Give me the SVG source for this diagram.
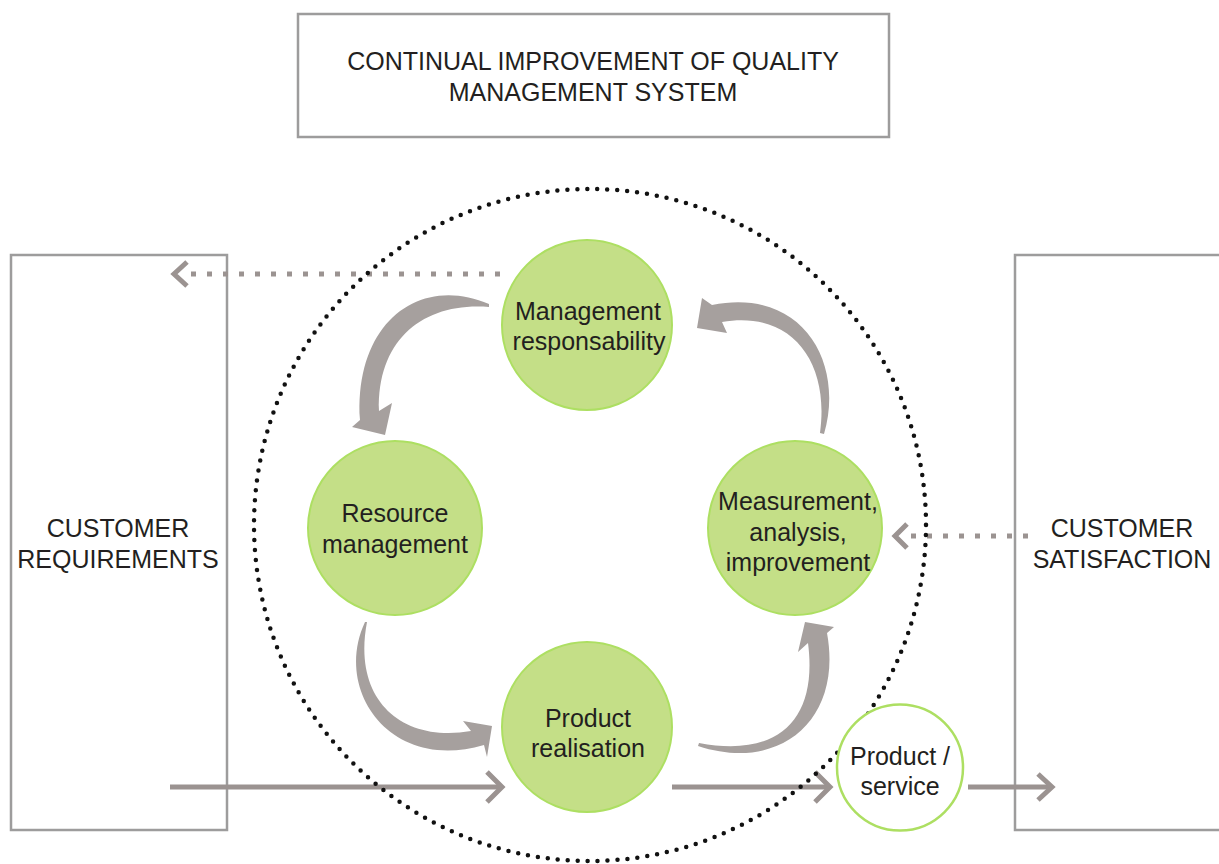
<svg xmlns="http://www.w3.org/2000/svg" width="1219" height="864" viewBox="0 0 1219 864">
<defs>
<style>
text{font-family:"Liberation Sans",Arial,sans-serif;font-size:25px;fill:#231f20;text-anchor:middle}
.box{fill:none;stroke:#9d9c9c;stroke-width:2.5}
.node{fill:#c4df87;stroke:#addf62;stroke-width:2}
.line{fill:none;stroke:#9b9391;stroke-width:5}
.chev{fill:none;stroke:#9b9391;stroke-width:5;stroke-linejoin:miter}
.dots{fill:none;stroke:#9b9391;stroke-width:5;stroke-dasharray:5 11}
.curve{fill:#a6a09e}
</style>
</defs>
<rect width="1219" height="864" fill="#ffffff"/>
<g id="title">
<rect class="box" x="298" y="14" width="591" height="123"/>
<text x="593" y="70">CONTINUAL IMPROVEMENT OF QUALITY</text>
<text x="593" y="101">MANAGEMENT SYSTEM</text>
</g>
<g id="customer-requirements">
<rect class="box" x="11" y="255" width="216" height="575"/>
<text x="118" y="537">CUSTOMER</text>
<text x="118" y="568">REQUIREMENTS</text>
</g>
<g id="customer-satisfaction">
<rect class="box" x="1015" y="255" width="230" height="575"/>
<text x="1122" y="537">CUSTOMER</text>
<text x="1122" y="568">SATISFACTION</text>
</g>
<g id="connectors">
<line class="dots" x1="500" y1="274" x2="190" y2="274"/>
<polyline class="chev" points="187,262 174,274 187,286"/>
<line class="dots" x1="1028" y1="536" x2="910" y2="536"/>
<polyline class="chev" points="907,524 895,536 907,548"/>
<line class="line" x1="170" y1="787" x2="500" y2="787"/>
<polyline class="chev" points="487,772 502,787 487,802"/>
<line class="line" x1="672" y1="787" x2="828" y2="787"/>
<polyline class="chev" points="815,772 830,787 815,802"/>
<line class="line" x1="968" y1="787" x2="1050" y2="787"/>
<polyline class="chev" points="1038,774 1052,787 1038,800"/>
<path class="curve" d="M 489 304 C 420 274, 354 322, 360 420 L 352 427 L 385 435 L 392 403 L 379 411 C 377 338, 425 302, 489 307 Z"/>
<path class="curve" d="M 824 434 C 845 362, 802 287, 712 305 L 702 298 L 697 328 L 727 333 L 722 322 C 790 310, 830 360, 820 433 Z"/>
<path class="curve" d="M 367 622 C 352 700, 402 743, 471 731 L 463 721 L 492 726 L 487 757 L 484 745 C 390 773, 333 690, 365 622 Z"/>
<path class="curve" d="M 698 746 C 780 773, 843 720, 827 633 L 834 627 L 805 622 L 798 652 L 808 643 C 818 720, 778 758, 699 743 Z"/>
<circle cx="590" cy="525" r="336" fill="none" stroke="#111" stroke-width="4.5" stroke-linecap="round" stroke-dasharray="0 10"/>
</g>
<g id="management">
<circle class="node" cx="587" cy="325" r="85"/>
<text x="588" y="320">Management</text>
<text x="589" y="350">responsability</text>
</g>
<g id="resource">
<circle class="node" cx="395" cy="528" r="87"/>
<text x="395" y="522">Resource</text>
<text x="395" y="553">management</text>
</g>
<g id="measurement">
<circle class="node" cx="795" cy="528" r="87"/>
<text x="798" y="510">Measurement,</text>
<text x="798" y="541">analysis,</text>
<text x="798" y="571">improvement</text>
</g>
<g id="realisation">
<circle class="node" cx="587" cy="727" r="85"/>
<text x="588" y="727">Product</text>
<text x="588" y="757">realisation</text>
</g>
<g id="product-service">
<circle cx="900" cy="767.5" r="63" fill="#ffffff" stroke="#addf62" stroke-width="2.5"/>
<text x="900" y="765">Product /</text>
<text x="900" y="795">service</text>
</g>
</svg>
